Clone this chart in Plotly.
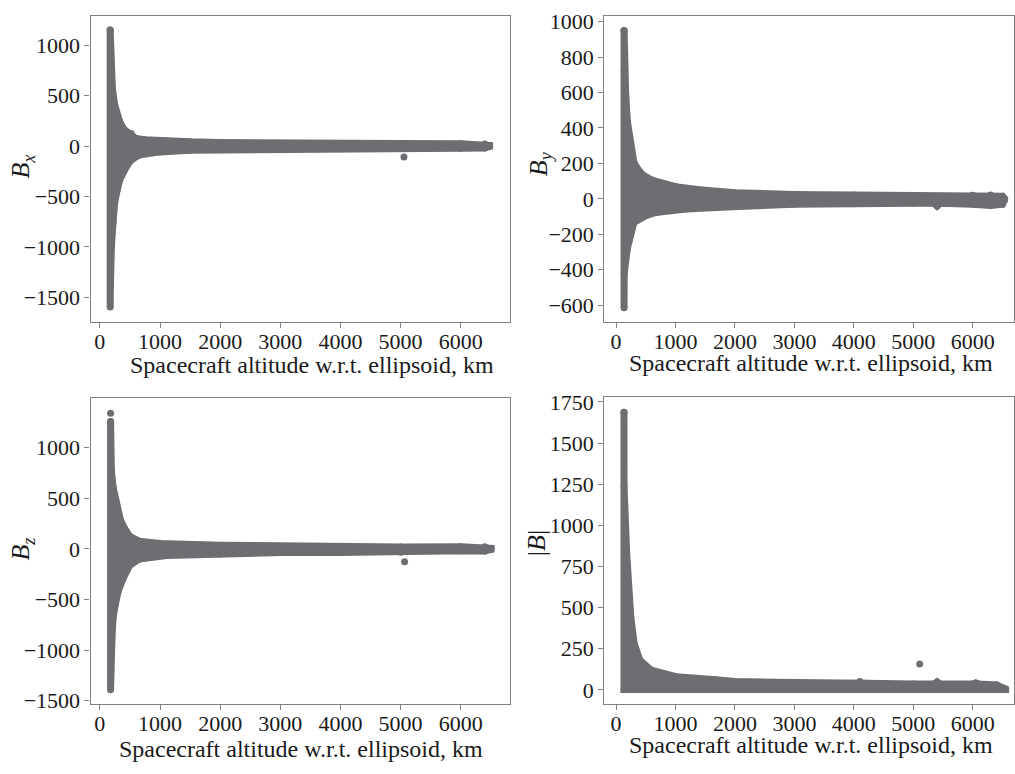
import plotly.graph_objects as go

# ---- Magnetic field components vs. spacecraft altitude ----
# Each point cloud is described by its outer envelope (marker centres):
# an upper edge and a lower edge as functions of altitude (km).

# B_x
BX_ALT_UP = [171, 175, 191, 208, 246, 285, 330, 400, 470, 520, 600, 750, 1000, 1500, 2000, 3000, 4000, 5000, 6000, 6400, 6480]
BX_UP = [1150, 900, 731, 570, 408, 311, 240, 165, 130, 125, 75, 62, 52, 42, 36, 27, 25, 24, 22, 20, 5]
BX_ALT_LO = [171, 175, 191, 220, 246, 290, 330, 400, 470, 550, 650, 750, 1000, 1500, 2000, 3000, 4000, 5000, 6000, 6400, 6480]
BX_LO = [-1597, -1400, -1000, -750, -563, -430, -337, -250, -175, -125, -90, -70, -58, -42, -37, -28, -27, -25, -22, -20, -5]
BX_SINGLE_ALT = [5055]
BX_SINGLE = [-110]

# B_y
BY_ALT_UP = [134, 136, 160, 189, 244, 300, 360, 450, 600, 1000, 1400, 2000, 3000, 4000, 5000, 6000, 6300, 6500, 6536]
BY_UP = [950, 720, 600, 438, 291, 205, 170, 135, 106, 69, 51, 35, 25, 22, 18, 20, 22, 15, 0]
BY_ALT_LO = [134, 136, 189, 233, 300, 500, 669, 1175, 1960, 3000, 4000, 5000, 5350, 5400, 5450, 6000, 6300, 6500, 6536]
BY_LO = [-615, -420, -280, -206, -133, -95, -77, -58, -44, -31, -28, -25, -25, -40, -25, -31, -38, -30, -5]
BY_SINGLE_ALT = []
BY_SINGLE = []

# B_z
BZ_ALT_UP = [178, 180, 191, 219, 274, 341, 413, 495, 650, 1000, 2000, 3000, 4000, 5000, 6000, 6400, 6503]
BZ_UP = [1260, 900, 774, 612, 450, 288, 200, 124, 76, 53, 37, 27, 21, 18, 21, 20, 5]
BZ_ALT_LO = [178, 180, 200, 219, 260, 302, 385, 495, 660, 1108, 2000, 3000, 4000, 5000, 6000, 6400, 6503]
BZ_LO = [-1393, -1200, -900, -683, -540, -424, -294, -163, -99, -66, -50, -36, -36, -34, -18, -20, -5]
BZ_SINGLE_ALT = [178, 5066]
BZ_SINGLE = [1340, -126]

# |B|
BM_ALT_UP = [132, 134, 177, 210, 248, 304, 400, 588, 1008, 1680, 2000, 3000, 4000, 4100, 4200, 5000, 5350, 5400, 5450, 6000, 6050, 6100, 6400, 6553]
BM_UP = [1687, 1232, 835, 637, 438, 280, 180, 120, 80, 61, 50, 44, 40, 50, 40, 35, 35, 48, 35, 35, 42, 35, 30, 5]
BM_ALT_LO = [132, 6553]
BM_LO = [2, 2]
BM_SINGLE_ALT = [5107]
BM_SINGLE = [157]

X_TITLE = "Spacecraft altitude w.r.t. ellipsoid, km"
COLOR = "#6d6d72"
FONT = "Liberation Serif"
TEXT = "#1a1a1a"
AXLINE = "#808080"
W, H = 1015, 774

panels = [
    dict(alt_up=BX_ALT_UP, up=BX_UP, alt_lo=BX_ALT_LO, lo=BX_LO, s_alt=BX_SINGLE_ALT, s=BX_SINGLE,
         xd=(90.7, 511), yd=(9, 322), xr=(-154, 6827), yr=(-1748, 1291), dtick=500,
         ytitle="<i>B</i><sub><i>x</i></sub>", ytpos=(22, 163), xtpos=(312, 366)),
    dict(alt_up=BY_ALT_UP, up=BY_UP, alt_lo=BY_ALT_LO, lo=BY_LO, s_alt=BY_SINGLE_ALT, s=BY_SINGLE,
         xd=(605, 1015), yd=(9, 322), xr=(-197, 6694), yr=(-697, 1033), dtick=200,
         ytitle="<i>B</i><sub><i>y</i></sub>", ytpos=(540, 160), xtpos=(812, 364)),
    dict(alt_up=BZ_ALT_UP, up=BZ_UP, alt_lo=BZ_ALT_LO, lo=BZ_LO, s_alt=BZ_SINGLE_ALT, s=BZ_SINGLE,
         xd=(90.7, 511), yd=(399, 712), xr=(-154, 6827), yr=(-1536, 1494), dtick=500,
         ytitle="<i>B</i><sub><i>z</i></sub>", ytpos=(22, 553), xtpos=(301, 758)),
    dict(alt_up=BM_ALT_UP, up=BM_UP, alt_lo=BM_ALT_LO, lo=BM_LO, s_alt=BM_SINGLE_ALT, s=BM_SINGLE,
         xd=(605, 1015), yd=(398, 712), xr=(-197, 6694), yr=(-88, 1781), dtick=250,
         ytitle="|<i>B</i>|", ytpos=(537, 547), xtpos=(812, 754)),
]

fig = go.Figure()
annotations = []
layout = dict(width=W, height=H, margin=dict(l=0, r=0, t=0, b=0),
              paper_bgcolor="white", plot_bgcolor="white", showlegend=False)

for i, p in enumerate(panels, start=1):
    xa = "x" if i == 1 else f"x{i}"
    ya = "y" if i == 1 else f"y{i}"
    # closed outline of the point cloud: upper edge left->right, lower edge right->left
    px = list(p["alt_up"]) + list(p["alt_lo"])[::-1] + [p["alt_up"][0]]
    py = list(p["up"]) + list(p["lo"])[::-1] + [p["up"][0]]
    fig.add_trace(go.Scatter(x=px, y=py, xaxis=xa, yaxis=ya, mode="lines+markers",
                             fill="toself", fillcolor=COLOR,
                             line=dict(color=COLOR, width=7),
                             marker=dict(color=COLOR, size=7, line=dict(width=0)),
                             hoverinfo="skip"))
    if p["s_alt"]:
        fig.add_trace(go.Scatter(x=p["s_alt"], y=p["s"], xaxis=xa, yaxis=ya, mode="markers",
                                 marker=dict(color=COLOR, size=7, line=dict(width=0))))

    axis_common = dict(showline=True, mirror=True, linecolor=AXLINE, linewidth=1.3,
                       ticks="outside", ticklen=5, tickwidth=1.3, tickcolor=AXLINE,
                       showgrid=False, zeroline=False,
                       tickfont=dict(family=FONT, size=22, color=TEXT))
    xkey = "xaxis" if i == 1 else f"xaxis{i}"
    ykey = "yaxis" if i == 1 else f"yaxis{i}"
    layout[xkey] = dict(axis_common, domain=[p["xd"][0] / W, min(p["xd"][1] / W, 1.0)],
                        range=list(p["xr"]), tickmode="linear", tick0=0, dtick=1000,
                        ticklabelstandoff=-6, anchor=ya)
    layout[ykey] = dict(axis_common, domain=[1 - p["yd"][1] / H, 1 - p["yd"][0] / H],
                        range=list(p["yr"]), tickmode="linear", tick0=0, dtick=p["dtick"],
                        anchor=xa)
    annotations.append(dict(text=X_TITLE, xref="paper", yref="paper",
                            x=p["xtpos"][0] / W, y=1 - p["xtpos"][1] / H,
                            xanchor="center", yanchor="middle", showarrow=False,
                            font=dict(family=FONT, size=24, color=TEXT)))
    annotations.append(dict(text=p["ytitle"], xref="paper", yref="paper",
                            x=p["ytpos"][0] / W, y=1 - p["ytpos"][1] / H,
                            xanchor="center", yanchor="middle", showarrow=False, textangle=-90,
                            font=dict(family=FONT, size=26, color=TEXT)))

layout["annotations"] = annotations
fig.update_layout(**layout)
fig.write_html("out.html")
